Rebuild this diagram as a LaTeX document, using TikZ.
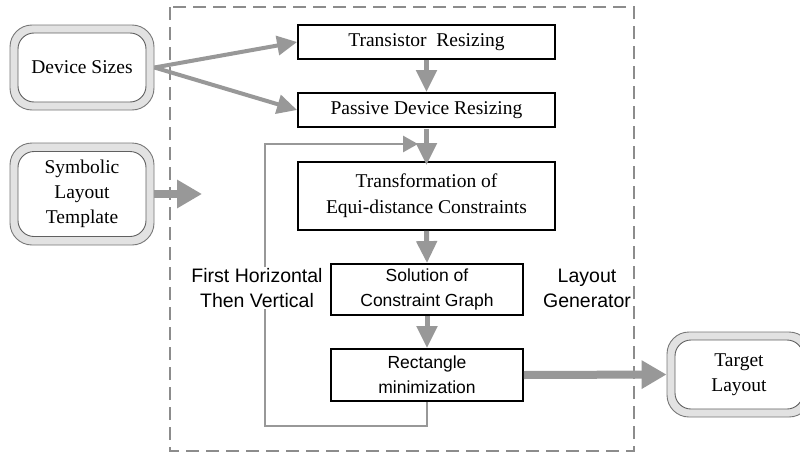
\documentclass[tikz,border=0pt]{standalone}
\usepackage{fontspec}
\setmainfont{Liberation Serif}
\setsansfont{Liberation Sans}
\usetikzlibrary{arrows.meta}

\definecolor{flowgray}{RGB}{152,152,152}
\definecolor{framegray}{RGB}{140,140,140}
\definecolor{termfill}{RGB}{226,226,226}
\definecolor{termline}{RGB}{120,120,120}

\tikzset{
  procbox/.style={draw=black, line width=1.8pt, fill=white, inner sep=0pt,
    align=center, font=\fontsize{19.5}{26}\selectfont},
  sansbox/.style={procbox, font=\sffamily\fontsize{17.5}{25}\selectfont},
  termouter/.style={draw=termline, line width=0.9pt, fill=termfill,
    rounded corners=22pt, minimum width=144pt, minimum height=85pt, inner sep=0pt},
  terminner/.style={draw=termline!80!black, line width=0.9pt, fill=white,
    rounded corners=16pt, minimum width=128pt, inner sep=0pt, align=center,
    font=\fontsize{19.5}{25}\selectfont},
  thinflow/.style={draw=flowgray, line width=4pt,
    -{Triangle[length=20pt,width=19pt]}},
  vflow/.style={draw=flowgray, line width=5pt,
    -{Triangle[length=22pt,width=20pt]}},
  bigflow/.style={draw=flowgray, line width=8pt,
    -{Triangle[length=25pt,width=27pt]}},
  loopflow/.style={draw=flowgray, line width=2.8pt,
    -{Triangle[length=15pt,width=16pt]}},
  steplabel/.style={font=\sffamily\fontsize{19.5}{25}\selectfont, align=center,
    inner sep=1pt}
}

\begin{document}
\begin{tikzpicture}[x=1pt, y=-1pt]
\useasboundingbox (0,0) rectangle (800,455);
\fill[white] (0,0) rectangle (800,455);

% layout generator frame
\draw[framegray, line width=1.8pt, dash pattern=on 13pt off 7pt] (170,7) rectangle (634,451);

% input and output terminals
\node[termouter] (dev) at (82,67.5) {};
\node[terminner, minimum height=69pt] (devin) at (dev.center) {Device Sizes};
\node[termouter, minimum height=102pt] (sym) at (82,194) {};
\node[terminner, minimum height=85pt] (symin) at (sym.center) {Symbolic\\Layout\\Template};
\node[termouter] (tgt) at (739,374.5) {};
\node[terminner, minimum height=69pt] (tgtin) at (tgt.center) {Target\\Layout};

% processing steps
\node[procbox, minimum width=257pt, minimum height=34pt] (tr) at (426.5,42) {Transistor\ \ Resizing};
\node[procbox, minimum width=257pt, minimum height=34pt] (pd) at (426.5,110) {Passive Device Resizing};
\node[procbox, minimum width=257pt, minimum height=68pt] (eq) at (426.5,196) {Transformation of\\Equi-distance Constraints};
\node[sansbox, minimum width=192pt, minimum height=51pt] (sol) at (427,289.5) {Solution of\\Constraint Graph};
\node[sansbox, minimum width=192pt, minimum height=52pt] (rm) at (427,375) {Rectangle\\minimization};

% labels
\node[steplabel] (order) at (257,288) {First Horizontal\\Then Vertical};
\node[steplabel] (gen) at (587,288) {Layout\\Generator};

% feedback loop, broken around its label
\coordinate (lpA) at (427,426);
\coordinate (lpB) at (265,426);
\coordinate (lpC) at (265,144);
\coordinate (lpD) at (418,144);
\draw[draw=flowgray, line width=2.8pt] (rm.south) -- (lpA) -- (lpB) -- (order.south -| lpB);
\draw[loopflow] (order.north -| lpC) -- (lpC) -- (lpD);

% flow arrows
\draw[thinflow] (dev.east) -- (tr.west);
\draw[thinflow] (dev.east) -- (pd.west);
\coordinate (symtip) at (202,194);
\draw[bigflow] (sym.east) -- (symtip);
\draw[vflow] (tr.south) -- (pd.north);
\draw[vflow] ([yshift=-1pt]pd.south) -- ([yshift=-4pt]eq.north);
\draw[vflow] (eq.south) -- (sol.north);
\draw[vflow] (sol.south) -- (rm.north);
\draw[bigflow] (rm.east) -- (tgt.west);
\end{tikzpicture}
\end{document}
